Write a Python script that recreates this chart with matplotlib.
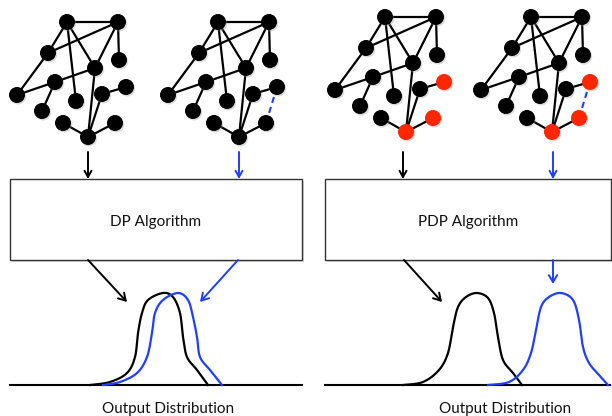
import numpy as np
import matplotlib
matplotlib.use("Agg")
import matplotlib.pyplot as plt
from matplotlib.patches import Circle, Rectangle

# ---- data ----
# base graph node positions (pixel coords of first graph)
node_names = list("ABCDEFGHIJKLMN")
node_x = [67, 118, 48, 119, 95, 55, 17, 102, 126, 76, 42, 63, 115, 88]
node_y = [22, 22, 53, 60, 68, 82, 95, 94, 87, 101, 111, 123, 123, 137]
edges = [("A", "B"), ("A", "C"), ("A", "J"), ("A", "E"), ("B", "C"), ("B", "E"),
         ("B", "D"), ("C", "G"), ("G", "F"), ("F", "E"), ("F", "K"), ("E", "N"),
         ("H", "N"), ("H", "I"), ("L", "N"), ("M", "N")]
graph_offsets = [(0, 0), (151, 0), (318, -5), (464, -5)]
extra_edge = {1: ("I", "M"), 3: ("I", "M")}
red_nodes = {2: ["N", "I", "M"], 3: ["N", "I", "M"]}

box_labels = ["DP Algorithm", "PDP Algorithm"]
bottom_label = "Output Distribution"

# output distribution curves (x, y pixel points)
dp_black_x = [90, 110, 127, 135, 138, 142, 148, 163, 173, 180, 183, 187, 197, 208]
dp_black_y = [385, 382, 373, 357, 333, 313, 300, 293, 297, 313, 337, 357, 370, 385]
dp_blue_x = [103, 120, 137, 147, 152, 155, 163, 178, 188, 193, 197, 200, 210, 222]
dp_blue_y = [385, 382, 373, 357, 333, 313, 300, 293, 300, 317, 337, 357, 370, 385]
pdp_black_x = [403, 423, 439, 448, 453, 458, 466, 477, 488, 494, 498, 503, 513, 522]
pdp_black_y = [385, 382, 370, 353, 327, 307, 297, 293, 298, 313, 337, 360, 373, 385]
pdp_blue_x = [488, 509, 523, 531, 536, 541, 549, 561, 573, 579, 583, 589, 599, 608]
pdp_blue_y = [385, 382, 370, 353, 330, 307, 297, 293, 300, 320, 347, 363, 375, 385]

BLUE = "#1f3fff"
RED = "#ff2600"


def catmull(xs, ys, n=20):
    p = np.column_stack([xs, ys]).astype(float)
    p = np.vstack([p[0], p, p[-1]])
    out = []
    for i in range(1, len(p) - 2):
        p0, p1, p2, p3 = p[i - 1], p[i], p[i + 1], p[i + 2]
        t = np.linspace(0, 1, n, endpoint=False)[:, None]
        pts = 0.5 * ((2 * p1) + (-p0 + p2) * t + (2 * p0 - 5 * p1 + 4 * p2 - p3) * t ** 2
                     + (-p0 + 3 * p1 - 3 * p2 + p3) * t ** 3)
        out.append(pts)
    out.append(p[-2][None, :])
    out = np.vstack(out)
    return out[:, 0], out[:, 1]


fig = plt.figure(figsize=(6.12, 4.16), dpi=100)
ax = fig.add_axes([0, 0, 1, 1])
ax.set_xlim(0, 612)
ax.set_ylim(416, 0)
ax.axis("off")

pos = {n: (x, y) for n, x, y in zip(node_names, node_x, node_y)}

for gi, (ox, oy) in enumerate(graph_offsets):
    P = {n: (x + ox, y + oy) for n, (x, y) in pos.items()}
    for a, b in edges:
        ax.plot([P[a][0], P[b][0]], [P[a][1], P[b][1]], color="black", lw=1.6, zorder=2,
                solid_capstyle="round")
    if gi in extra_edge:
        a, b = extra_edge[gi]
        ax.plot([P[a][0], P[b][0]], [P[a][1], P[b][1]], color=BLUE, lw=1.5, zorder=2,
                linestyle=(0, (3, 2)))
    for n, (x, y) in P.items():
        c = RED if n in red_nodes.get(gi, []) else "black"
        ax.add_patch(Circle((x + 1.2, y + 1.5), 8.0, color="#999999", alpha=0.35, lw=0, zorder=2.5))
        ax.add_patch(Circle((x, y), 8.0, color=c, lw=0, zorder=3))

# arrows from graphs to boxes
arrow_x = [88, 239, 403, 553]
arrow_c = ["black", BLUE, "black", BLUE]
for x, c in zip(arrow_x, arrow_c):
    ax.annotate("", xy=(x, 179), xytext=(x, 152),
                arrowprops=dict(arrowstyle="->,head_length=0.45,head_width=0.25", color=c, lw=1.4,
                                shrinkA=0, shrinkB=0))

# boxes
boxes = [(10, 179, 292, 81), (325, 179, 286, 81)]
for (x, y, w, h), lab in zip(boxes, box_labels):
    ax.add_patch(Rectangle((x + 1.5, y + 1.5), w, h, facecolor="#bbbbbb", edgecolor="none",
                           alpha=0.5, zorder=1))
    ax.add_patch(Rectangle((x, y), w, h, facecolor="white", edgecolor="#333333", lw=1.0, zorder=1.2))
    ax.text(x + w / 2, y + 43, lab, ha="center", va="center", fontsize=11,
            family="Lato", color="#111111", zorder=4)

# arrows from boxes to distributions
for (x0, y0, x1, y1, c) in [(88, 260, 127, 302, "black"), (238, 260, 200, 302, BLUE),
                            (404, 260, 442, 302, "black"), (553, 260, 553, 284, BLUE)]:
    ax.annotate("", xy=(x1, y1), xytext=(x0, y0),
                arrowprops=dict(arrowstyle="->,head_length=0.5,head_width=0.3", color=c, lw=1.4,
                                shrinkA=0, shrinkB=0))

# baselines
ax.plot([10, 302], [385, 385], color="black", lw=1.5, zorder=2)
ax.plot([325, 610], [385, 385], color="black", lw=1.5, zorder=2)

# curves
for xs, ys, c in [(dp_black_x, dp_black_y, "black"), (dp_blue_x, dp_blue_y, BLUE),
                  (pdp_black_x, pdp_black_y, "black"), (pdp_blue_x, pdp_blue_y, BLUE)]:
    cx, cy = catmull(xs, ys)
    ax.plot(cx, cy, color=c, lw=1.6, zorder=3)

# bottom labels
ax.text(168, 409, bottom_label, ha="center", va="center", fontsize=11, family="Lato",
        color="#111111")
ax.text(505, 409, bottom_label, ha="center", va="center", fontsize=11, family="Lato",
        color="#111111")

fig.savefig("out.png", dpi=100)
